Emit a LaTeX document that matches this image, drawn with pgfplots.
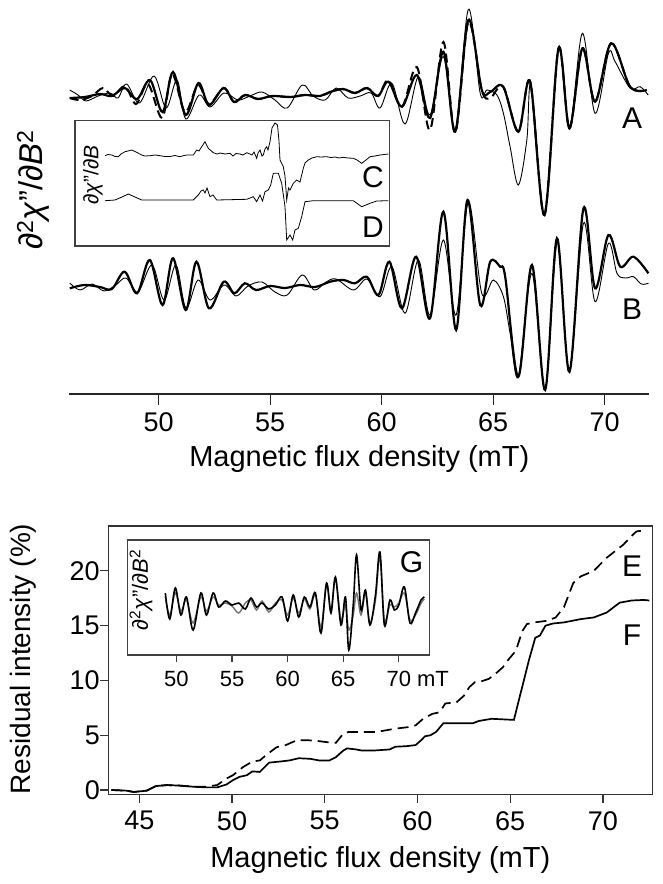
\documentclass[border=0pt]{standalone}
\usepackage{fontspec}
\setmainfont{Liberation Sans}
\usepackage{pgfplots}
\pgfplotsset{compat=1.18}
\newcommand{\fs}[1]{\fontsize{#1}{#1}\selectfont}
\begin{document}
\begin{tikzpicture}
\useasboundingbox (0pt,0pt) rectangle (662pt,-884pt);
% ---------------- top panel ----------------
\begin{axis}[at={(69.3pt,-394pt)}, anchor=south west, scale only axis,
  width=580pt, height=394pt, xmin=46, xmax=72, ymin=0, ymax=394,
  axis x line=bottom, axis y line=none,
  axis line style={-, line width=1.1pt, black!85},
  xtick={50,55,60,65,70}, tick align=outside, major tick length=11pt,
  tick style={line width=1.1pt, black!85},
  xticklabel style={font=\fs{27}, yshift=-4pt},
  /pgf/number format/assume math mode=true, clip=false]
% A thin
\addplot[black, line width=0.9pt, smooth, tension=0.55] coordinates {
(46.02,304)(46.39,299)(46.75,293)(47.29,298)(47.83,301)(48.18,296)(48.57,310)(49.14,291)
(49.80,318)(50.34,286)(50.83,314)(51.22,275)(51.82,299)(52.31,287)(52.94,301)(53.56,294)
(54.10,298)(54.64,302)(55.22,294)(55.77,286)(56.44,309)(56.93,298)(57.47,294)(57.96,306)
(58.50,296)(59.04,298)(59.53,301)(59.93,286)(60.46,310.7)(61.05,270)(61.65,317.3)(62.17,279)
(62.77,337.3)(63.30,264)(63.89,384.7)(64.42,300.7)(64.72,304)(65.17,299)(65.46,280.7)(65.76,247.3)
(66.13,209)(66.51,254)(66.70,309)(67.30,179)(67.93,345.7)(68.42,265.7)(69.00,360.7)(69.57,280.7)
(70.17,340.7)(70.47,332.3)(71.14,305.7)(71.59,307.3)(71.95,299)};
% A dashed
\addplot[black, line width=2pt, dash pattern=on 9pt off 5pt, smooth, tension=0.55] coordinates {
(46.02,296)(46.48,294)(47.02,298)(47.51,306)(47.96,298)(48.50,308)(48.99,290)(49.53,310)
(50.16,276)(50.61,320)(51.19,282)(51.77,309)(52.26,290)(52.92,306)(53.39,292)(53.88,299)
(54.46,295)(55.09,298)(55.90,297)(56.57,299)(57.24,298)(57.69,302)(58.27,305)(58.81,301)
(59.35,306)(59.84,298)(60.31,314)(60.91,287.3)(61.58,327)(62.17,264)(62.77,352)(63.30,261)
(63.89,372)(64.49,304)(64.87,296)(65.45,307.3)(66.13,262.3)(66.66,312.3)(67.30,179)(67.93,345.7)
(68.42,265.7)(69.00,345.7)(69.57,292.3)(70.29,350.7)(71.14,307.3)(71.89,304)};
% A thick
\addplot[black, line width=2.2pt, smooth, tension=0.55] coordinates {
(46.02,296)(46.70,297)(47.38,300)(47.91,298)(48.48,306)(49.04,295)(49.62,314)(50.18,282)
(50.65,322)(51.22,279)(51.79,311)(52.26,289)(52.92,306)(53.39,292)(53.88,299)(54.46,295)
(55.09,298)(55.90,297)(56.57,299)(57.24,298)(57.69,302)(58.27,305)(58.81,301)(59.35,306)
(59.84,298)(60.31,312.3)(60.91,287.3)(61.58,319)(62.17,276)(62.77,342.3)(63.30,262.3)(63.89,374)
(64.49,304)(64.87,302)(65.45,307.3)(66.13,262.3)(66.66,312.3)(67.30,179)(67.93,345.7)(68.42,265.7)
(69.00,345.7)(69.57,292.3)(70.29,350.7)(71.14,307.3)(71.89,304)};
% B thin
\addplot[black, line width=0.9pt, smooth, tension=0.55] coordinates {
(46.02,111)(46.48,104)(47.02,110)(47.56,103)(48.09,109)(48.54,116)(49.08,102)(49.71,129)
(50.25,94)(50.78,129)(51.23,86)(51.77,114)(52.31,94)(52.94,109)(53.48,98)(54.01,108)
(54.64,112)(55.22,102)(55.77,99)(56.44,119)(56.98,104)(57.51,112)(57.96,115)(58.74,104)
(59.34,115)(59.93,97.3)(60.46,127.3)(61.05,80.7)(61.65,134)(62.17,79)(62.77,154)(63.34,79)
(63.89,192.3)(64.49,100.7)(65.01,114)(65.46,97.3)(65.76,60.7)(66.13,17.3)(66.74,120.7)(67.33,4)
(67.88,152.3)(68.42,22.3)(69.05,170.7)(69.57,92.3)(70.17,150.7)(70.55,120.7)(70.92,116)(71.29,117.3)
(71.64,110)(71.96,110.7)};
% B thick
\addplot[black, line width=2.2pt, smooth, tension=0.55] coordinates {
(46.02,105.7)(46.68,109)(47.38,107)(47.91,105)(48.48,122.3)(49.04,100.7)(49.61,134)(50.18,89)
(50.65,135.7)(51.22,84)(51.70,132.3)(52.26,85.7)(52.92,112.3)(53.40,100.7)(53.87,110.7)(54.37,104)
(55.00,108)(55.67,106)(56.35,109)(57.02,107)(57.69,112.3)(58.29,114)(58.81,110.7)(59.34,117.3)
(59.86,99)(60.35,132.3)(60.91,85.7)(61.55,137.3)(62.17,75.7)(62.77,182.3)(63.34,64)(63.85,194)
(64.42,89)(64.87,132.3)(65.31,127.3)(65.54,117.3)(66.13,17.3)(66.74,129)(67.33,4)(67.86,155.7)
(68.42,22.3)(69.05,185.7)(69.57,105.7)(70.17,159)(70.70,127.3)(71.29,137.3)(71.96,120.7)};
\end{axis}
% ---------------- inset C/D ----------------
\begin{axis}[at={(75pt,-246pt)}, anchor=south west, scale only axis,
  width=314.5pt, height=125.3pt, xmin=75, xmax=389.5, ymin=0, ymax=125.3,
  axis line style={line width=1.1pt, black!75},
  axis background/.style={fill=white}, xtick=\empty, ytick=\empty]
\addplot[black, line width=0.8pt] coordinates {
(105,90.3)(108,91.5)(112,91)(115,89.5)(118.3,89.3)(121,92)(125,94.3)(128,95)(131.7,96)(136,94)
(141.7,91)(145,90)(150,90.3)(155,91)(160,90.3)(165,89.5)(170,89.5)(175,90.5)(180,89.3)(184,90.5)
(187,91)(193.3,91)(196.7,96)(199,95)(201.7,99.3)(205,104.3)(208.3,97.7)(213.3,93.3)(217,92)
(220,93)(225,92)(230,92.7)(233,90)(236,92.5)(240,92)(243,91)(246.7,93.3)(250,92)(252,91)
(254,94)(256.7,87.7)(258,93)(260,96)(262,90)(263.3,91)(265,97)(266.7,99.3)(268,96)(270,104.3)
(272,118)(275,123)(277.5,121)(279,105)(280,86)(283.3,79.3)(285,70)(286.7,46)(288.5,58)(290,56)
(293.3,62.7)(296.7,66)(300,64)(303.3,77.7)(305,83)(308.3,86)(312,88)(316.7,89.3)(321,89)
(326.7,89.3)(331,88.5)(335,89)(339,88)(343.3,88.7)(348,88)(353.3,87.7)(357,86)(361.7,82.7)
(366,86)(370,89.3)(375,90)(380,91)(384,91.5)(388.3,92)};
\addplot[black, line width=0.8pt] coordinates {
(105,45.3)(115,46)(122,49)(128.3,52)(135,49)(141.7,46)(160,46)(193.3,46)(198.3,51)(201,55)
(203.3,56)(205,53)(207,58)(210,49.3)(213,51)(216.7,46)(246.7,46.7)(253.3,49.3)(256.7,44.3)
(260,51)(262.5,45)(265,54.3)(268.3,56)(270.7,61)(273.3,72.7)(278.3,72.7)(281.7,62.7)(285,39.3)
(286.7,6)(290,11)(292.7,6)(295,16)(298.3,17.7)(301.7,29.3)(305,44.3)(313.3,45.3)(353.3,45.3)
(361.7,39.3)(370,42.7)(376.7,45)(388.3,45.3)};
\end{axis}
% ---------------- bottom panel ----------------
\begin{axis}[at={(108.3pt,-794.7pt)}, anchor=south west, scale only axis,
  width=544pt, height=268.7pt, xmin=43.33, xmax=72.66, ymin=-0.43, ymax=24.1,
  axis line style={line width=1.1pt, black!80},
  xtick={45,50,55,60,65,70}, ytick={0,5,10,15,20},
  xtick pos=left, ytick pos=left, tick align=outside, major tick length=8pt,
  tick style={line width=1.1pt, black!80},
  xticklabel style={font=\fs{27}, yshift=-5pt},
  yticklabel style={font=\fs{27}, xshift=3pt},
  /pgf/number format/assume math mode=true, clip=false]
\addplot[black, line width=1.7pt, dash pattern=on 11pt off 6pt] coordinates {
(43.5,0)(44.3,-0.06)(44.7,-0.18)(45.4,-0.06)(45.9,0.36)(46.5,0.45)(47.2,0.4)(47.9,0.3)(48.6,0.3)
(49.2,0.45)(49.7,1.05)(50.05,1.35)(50.6,2.1)(51.1,2.6)(51.5,2.7)(51.85,3.2)(52.4,3.9)(52.9,4.1)
(53.5,4.55)(54.0,4.55)(54.5,4.5)(55.2,4.35)(55.6,4.3)(56.0,5.15)(56.3,5.3)(57.0,5.3)(57.8,5.3)
(58.3,5.45)(58.8,5.6)(59.55,5.75)(59.9,5.9)(60.3,6.5)(60.8,6.95)(61.2,7.1)(61.5,7.9)(62.1,8.0)
(62.5,8.6)(62.8,9.4)(63.1,9.85)(63.5,9.95)(63.85,10.15)(64.2,10.6)(64.6,11.2)(64.8,11.7)(65.3,12.7)
(65.65,14.5)(65.9,15.15)(66.3,15.3)(67.0,15.45)(67.45,15.75)(67.9,16.7)(68.4,18.9)(68.8,19.5)
(69.5,20.0)(70.2,21.2)(70.65,21.8)(71.1,22.4)(71.55,23.2)(71.8,23.6)(72.2,23.7)};
\addplot[black, line width=1.7pt] coordinates {
(43.5,0)(44.3,-0.06)(44.7,-0.18)(45.4,-0.06)(45.9,0.36)(46.5,0.45)(47.2,0.4)(47.9,0.3)(48.6,0.24)
(49.2,0.24)(49.7,0.5)(50.05,0.9)(50.4,1.2)(50.8,1.35)(51.1,1.7)(51.5,1.65)(52.0,2.5)(52.6,2.6)
(53.1,2.7)(53.6,2.9)(54.2,2.85)(54.7,2.7)(55.25,2.7)(55.6,3.0)(56.0,3.6)(56.2,3.8)(56.7,3.7)
(57.0,3.6)(57.6,3.6)(58.5,3.7)(58.8,3.95)(59.4,4.0)(59.9,4.1)(60.2,4.55)(60.4,4.9)(60.7,5.0)
(61.0,5.3)(61.4,6.1)(61.9,6.1)(62.4,6.1)(63.0,6.1)(63.3,6.3)(64.0,6.5)(64.6,6.45)(65.2,6.4)
(66.0,11.8)(66.35,13.9)(66.6,14.1)(66.9,15.0)(67.3,15.2)(67.9,15.3)(68.8,15.6)(69.5,15.75)
(70.2,16.2)(70.9,17.1)(71.55,17.3)(72.2,17.35)(72.5,17.3)};
\end{axis}
% ---------------- inset G ----------------
\begin{axis}[at={(127.5pt,-655pt)}, anchor=south west, scale only axis,
  width=301.8pt, height=115pt, xmin=45.6, xmax=72.74, ymin=0, ymax=115,
  axis line style={line width=1.1pt, black!75},
  axis background/.style={fill=white},
  xtick={50,55,60,65,70}, xticklabels={\textrm{50},\textrm{55},\textrm{60},\textrm{65},{\textrm{70}\rlap{\textrm{ mT}}}},
  ytick=\empty, xtick pos=left, tick align=outside, major tick length=7pt,
  tick style={line width=1.1pt, black!75},
  xticklabel style={font=\fs{22}, yshift=-6pt}]
\addplot[black!55, line width=1.4pt, smooth, tension=0.55] coordinates {
(49.0,58)(49.4,40)(49.9,62)(50.4,44)(50.9,55)(51.5,32)(52.2,58)(52.7,44)(53.3,58)(53.8,50)
(54.4,52)(55.0,49)(55.6,42)(56.2,52)(56.7,55)(57.2,45)(57.7,54)(58.3,43)(58.9,52)(59.5,55)
(60.0,40)(60.5,57)(61.0,42)(61.5,56)(62.0,46)(62.5,60)(63.0,28)(63.5,70)(63.9,45)(64.3,76)
(64.8,35)(65.2,50)(65.5,25)(65.9,40)(66.2,62)(66.6,40)(67.0,62)(67.4,32)(67.9,55)(68.3,98)
(68.7,35)(69.2,50)(69.6,48)(70.0,52)(70.5,62)(71.0,35)(71.5,40)(72.0,52)(72.3,56)};
\addplot[black, line width=1.6pt, smooth, tension=0.55] coordinates {
(49.0,62)(49.4,36)(49.9,67)(50.4,40)(50.9,58)(51.5,25)(52.2,62)(52.7,40)(53.3,62)(53.8,48)
(54.4,54)(55.0,50)(55.6,52)(56.2,46)(56.7,57)(57.2,48)(57.7,52)(58.3,46)(58.9,50)(59.5,58)
(60.0,34)(60.5,60)(61.0,38)(61.5,58)(62.0,48)(62.5,62)(63.0,22)(63.5,72)(63.9,42)(64.3,78)
(64.8,30)(65.2,58)(65.5,5)(65.9,50)(66.2,100)(66.6,45)(67.0,65)(67.4,30)(67.9,60)(68.3,103)
(68.7,30)(69.2,55)(69.6,45)(70.0,50)(70.5,68)(71.0,32)(71.5,42)(72.0,55)(72.3,58)};
\end{axis}
% ---------------- labels ----------------
\node[font=\fs{29}] at (359.3pt,-459pt) {Magnetic flux density (mT)};
\node[font=\fs{29}] at (380.3pt,-860pt) {Magnetic flux density (mT)};
\node[font=\fs{28}, rotate=90] at (23pt,-659pt) {Residual intensity (\%)};
\node[font=\fs{33}, rotate=90] at (33pt,-190pt) {\textit{∂}\textsuperscript{2}\textit{χ}"/\textit{∂B}\textsuperscript{2}};
\node[font=\fs{21}, rotate=90] at (93pt,-175pt) {\textit{∂χ}"/\textit{∂B}};
\node[font=\fs{22}, rotate=90] at (141pt,-590pt) {\textit{∂}\textsuperscript{2}\textit{χ}"/\textit{∂B}\textsuperscript{2}};
\node[font=\fs{30}] at (632pt,-118pt) {A};
\node[font=\fs{30}] at (632pt,-309.5pt) {B};
\node[font=\fs{30}] at (373pt,-176.7pt) {C};
\node[font=\fs{30}] at (373pt,-227pt) {D};
\node[font=\fs{30}] at (632pt,-566pt) {E};
\node[font=\fs{30}] at (632pt,-635pt) {F};
\node[font=\fs{30}] at (411.5pt,-562pt) {G};
\end{tikzpicture}
\end{document}
